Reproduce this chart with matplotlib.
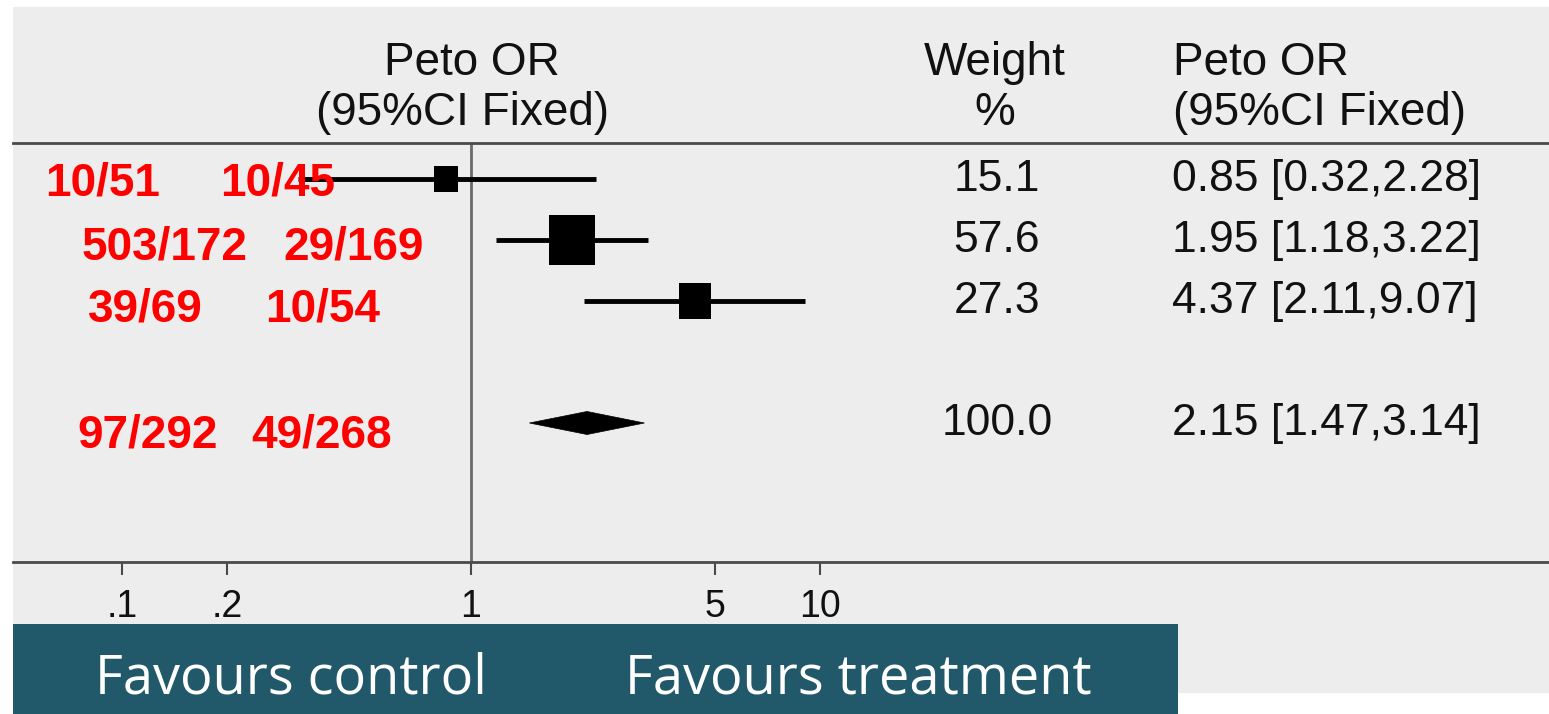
import matplotlib
matplotlib.use("Agg")
import matplotlib.pyplot as plt
import numpy as np
from matplotlib.patches import Rectangle, Polygon
from matplotlib.ticker import FixedLocator, FixedFormatter, NullLocator

# ---------------- data ----------------
treat_counts = ["10/51", "503/172", "39/69"]
control_counts = ["10/45", "29/169", "10/54"]
pooled_treat_count = "97/292"
pooled_control_count = "49/268"
odds_ratio = [0.85, 1.95, 4.37]
ci_low = [0.32, 1.18, 2.11]
ci_high = [2.28, 3.22, 9.07]
weights = [15.1, 57.6, 27.3]
pooled_or = 2.15
pooled_low = 1.47
pooled_high = 3.14
pooled_weight = 100.0
tick_values = [0.1, 0.2, 1, 5, 10]
tick_labels = [".1", ".2", "1", "5", "10"]
plot_header = ["Peto OR", "(95%CI Fixed)"]
weight_header = ["Weight", "%"]
or_header = ["Peto OR", "(95%CI Fixed)"]
favours = ["Favours control", "Favours treatment"]

# ---------------- layout ----------------
W, H = 1549, 714
DPI = 100
PX1 = 471.0      # pixel x of OR = 1
DEC = 349.0      # pixels per decade
ROW0 = 179.0     # pixel y of first row
ROWSTEP = 61.0   # pixel step between rows
row_index = [0, 1, 2]
pooled_index = 4
AX_LEFT, AX_RIGHT, AX_TOP, AX_BOT = 13, 1549, 143, 562

red_base = [195, 260, 322, 447]
red_x1 = [45, 82, 88, 77]
red_x2 = [220, 283, 265, 251]

fig = plt.figure(figsize=(W / DPI, H / DPI), dpi=DPI)
fig.patch.set_facecolor("white")

# background layer
bg = fig.add_axes([0, 0, 1, 1], zorder=0)
bg.set_xlim(0, W)
bg.set_ylim(H, 0)
bg.axis("off")
bg.add_patch(Rectangle((13, 7), W - 13, 686, facecolor="#ededed", edgecolor="none"))
bg.add_patch(Rectangle((13, 624), 1165, 90, facecolor="#22596a", edgecolor="none"))

# forest plot axes
ax = fig.add_axes([AX_LEFT / W, (H - AX_BOT) / H, (AX_RIGHT - AX_LEFT) / W,
                   (AX_BOT - AX_TOP) / H], zorder=1)
ax.patch.set_alpha(0)
ax.set_xscale("log")
ax.set_xlim(10 ** ((AX_LEFT - PX1) / DEC), 10 ** ((AX_RIGHT - PX1) / DEC))
ax.set_ylim((AX_BOT - ROW0) / ROWSTEP, (AX_TOP - ROW0) / ROWSTEP)
for s in ["left", "right"]:
    ax.spines[s].set_visible(False)
for s in ["top", "bottom"]:
    ax.spines[s].set_color("#4a4a4a")
    ax.spines[s].set_linewidth(2.0)
ax.yaxis.set_visible(False)
ax.xaxis.set_major_locator(FixedLocator(tick_values))
ax.xaxis.set_major_formatter(FixedFormatter(tick_labels))
ax.xaxis.set_minor_locator(NullLocator())
ax.tick_params(axis="x", which="major", direction="out", length=9.5, width=1.5,
               color="#4a4a4a", pad=10, labelsize=27, labelcolor="#111111")
for lab in ax.get_xticklabels():
    lab.set_fontfamily("Liberation Sans")

ax.axvline(1, color="#6a6a6a", lw=2.0, zorder=1)

# slightly tall box marker, as in the scanned original
box = [(-0.91, -1), (0.91, -1), (0.91, 1), (-0.91, 1), (-0.91, -1)]
for i, o, lo, hi, w in zip(row_index, odds_ratio, ci_low, ci_high, weights):
    ax.plot([lo, hi], [i, i], color="black", lw=3.5, solid_capstyle="butt", zorder=2)
    h_px = 6.7 * np.sqrt(w)
    ax.plot([o], [i], marker=box, color="black", markersize=h_px * 72 / DPI,
            markeredgewidth=0, zorder=3)

dh = 11.5 / ROWSTEP
ax.add_patch(Polygon([[pooled_low, pooled_index], [pooled_or, pooled_index - dh],
                      [pooled_high, pooled_index], [pooled_or, pooled_index + dh]],
                     closed=True, facecolor="black", edgecolor="black", lw=0.5, zorder=3))

# text layer
tx = fig.add_axes([0, 0, 1, 1], zorder=2)
tx.set_xlim(0, W)
tx.set_ylim(H, 0)
tx.axis("off")
tx.patch.set_alpha(0)

hfont = dict(family="Liberation Sans", fontsize=33, color="#111111", va="baseline")
vfont = dict(family="Liberation Sans", fontsize=32, color="#111111", va="baseline")

tx.text(472, 75, plot_header[0], ha="center", **hfont)
tx.text(463, 125, plot_header[1], ha="center", **hfont)
tx.text(995, 75, weight_header[0], ha="center", **hfont)
tx.text(995, 125, weight_header[1], ha="center", **hfont)
tx.text(1173, 75, or_header[0], ha="left", **hfont)
tx.text(1173, 125, or_header[1], ha="left", **hfont)

val_rows = row_index + [pooled_index]
all_w = weights + [pooled_weight]
all_or = odds_ratio + [pooled_or]
all_lo = ci_low + [pooled_lo] if False else ci_low + [pooled_low]
all_hi = ci_high + [pooled_high]
for r, w, o, lo, hi in zip(val_rows, all_w, all_or, all_lo, all_hi):
    yb = ROW0 + r * ROWSTEP + 12
    tx.text(997, yb, f"{w:.1f}", ha="center", **vfont)
    tx.text(1172, yb, f"{o:.2f} [{lo:.2f},{hi:.2f}]", ha="left", **vfont)

red_a = treat_counts + [pooled_treat_count]
red_b = control_counts + [pooled_control_count]
for a, b, yb, x1, x2 in zip(red_a, red_b, red_base, red_x1, red_x2):
    tx.text(x1, yb, a, ha="left", va="baseline", family="Liberation Sans",
            fontweight="bold", fontsize=33, color="#ff0000")
    tx.text(x2, yb, b, ha="left", va="baseline", family="Liberation Sans",
            fontweight="bold", fontsize=33, color="#ff0000")

tx.text(291, 694, favours[0], ha="center", va="baseline", family="Open Sans",
        fontsize=39, color="white")
tx.text(858, 694, favours[1], ha="center", va="baseline", family="Open Sans",
        fontsize=39, color="white")

fig.savefig("out.png", dpi=DPI, facecolor="white")
